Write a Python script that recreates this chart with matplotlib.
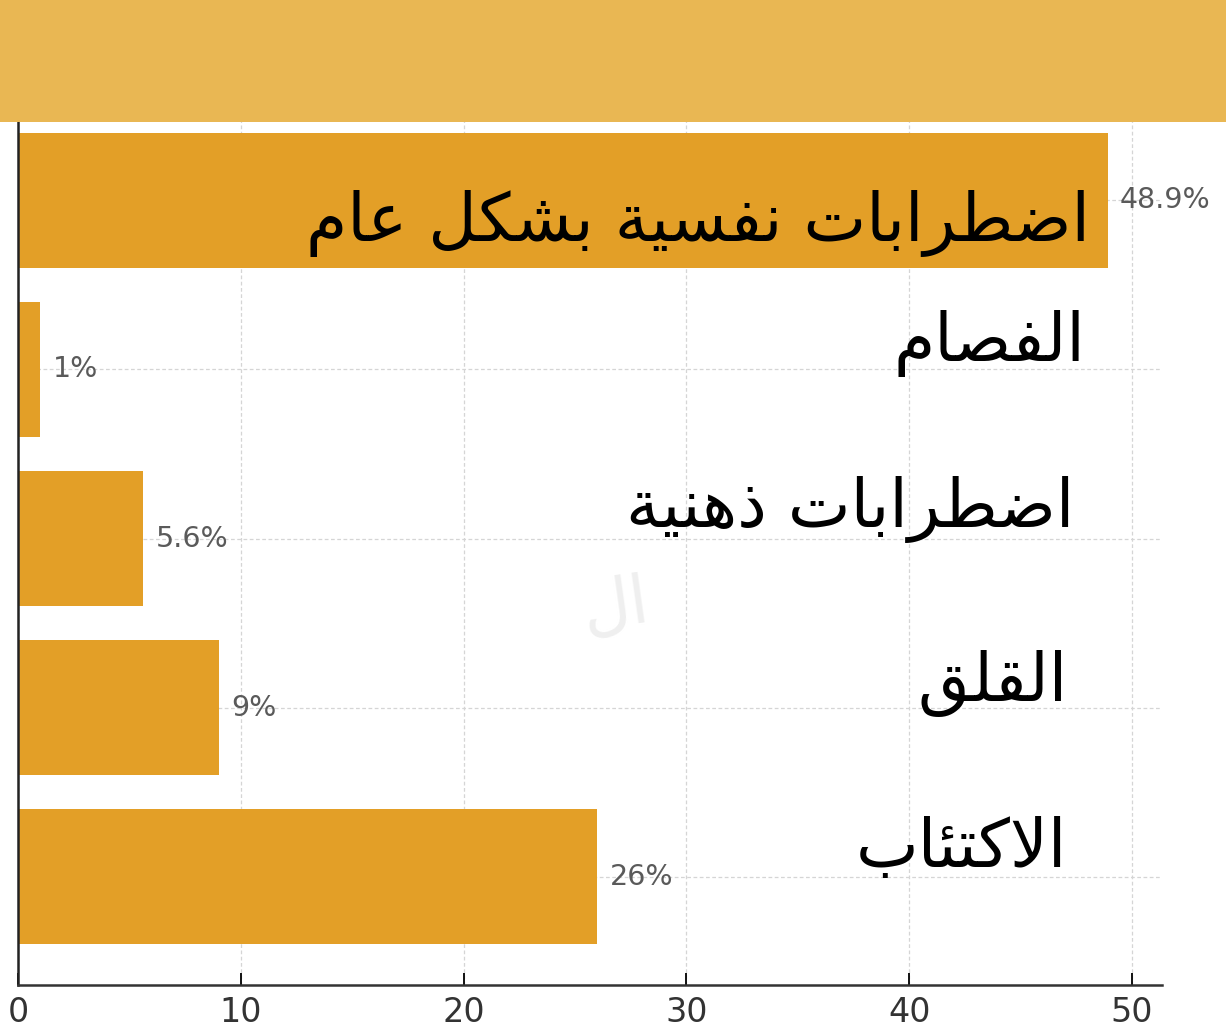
import matplotlib
matplotlib.use("Agg")
import matplotlib.pyplot as plt
from matplotlib.patches import Rectangle

# data, bottom to top
categories = ['الاكتئاب', 'القلق', 'اضطرابات ذهنية', 'الفصام', 'اضطرابات نفسية بشكل عام']
values = [26, 9, 5.6, 1, 48.9]
value_labels = ['26%', '9%', '5.6%', '1%', '48.9%']
xticks = [0, 10, 20, 30, 40, 50]

# arabic presentation forms: isolated, final, initial, medial
FORMS = {
    'ا': ('\uFE8D', '\uFE8E', None, None),
    'ب': ('\uFE8F', '\uFE90', '\uFE91', '\uFE92'),
    'ة': ('\uFE93', '\uFE94', None, None),
    'ت': ('\uFE95', '\uFE96', '\uFE97', '\uFE98'),
    'ذ': ('\uFEAB', '\uFEAC', None, None),
    'ر': ('\uFEAD', '\uFEAE', None, None),
    'س': ('\uFEB1', '\uFEB2', '\uFEB3', '\uFEB4'),
    'ش': ('\uFEB5', '\uFEB6', '\uFEB7', '\uFEB8'),
    'ص': ('\uFEB9', '\uFEBA', '\uFEBB', '\uFEBC'),
    'ض': ('\uFEBD', '\uFEBE', '\uFEBF', '\uFEC0'),
    'ط': ('\uFEC1', '\uFEC2', '\uFEC3', '\uFEC4'),
    'ع': ('\uFEC9', '\uFECA', '\uFECB', '\uFECC'),
    'ف': ('\uFED1', '\uFED2', '\uFED3', '\uFED4'),
    'ق': ('\uFED5', '\uFED6', '\uFED7', '\uFED8'),
    'ك': ('\uFED9', '\uFEDA', '\uFEDB', '\uFEDC'),
    'ل': ('\uFEDD', '\uFEDE', '\uFEDF', '\uFEE0'),
    'م': ('\uFEE1', '\uFEE2', '\uFEE3', '\uFEE4'),
    'ن': ('\uFEE5', '\uFEE6', '\uFEE7', '\uFEE8'),
    'ه': ('\uFEE9', '\uFEEA', '\uFEEB', '\uFEEC'),
    'ي': ('\uFEF1', '\uFEF2', '\uFEF3', '\uFEF4'),
    'ئ': ('\uFE89', '\uFE8A', '\uFE8B', '\uFE8C'),
    'لا': ('\uFEFB', '\uFEFC', None, None),
}


def shape(text):
    """Join arabic letters and put them in visual (left to right) order."""
    chars = []
    i = 0
    while i < len(text):
        if text[i] == 'ل' and i + 1 < len(text) and text[i + 1] == 'ا':
            chars.append('لا')
            i += 2
        else:
            chars.append(text[i])
            i += 1
    out = []
    for k, c in enumerate(chars):
        if c not in FORMS:
            out.append(c)
            continue
        prev = chars[k - 1] if k > 0 else None
        nxt = chars[k + 1] if k + 1 < len(chars) else None
        join_prev = prev in FORMS and FORMS[prev][2] is not None
        join_next = FORMS[c][2] is not None and nxt in FORMS
        iso, fin, ini, med = FORMS[c]
        if join_prev and join_next:
            out.append(med)
        elif join_prev:
            out.append(fin)
        elif join_next:
            out.append(ini)
        else:
            out.append(iso)
    return ''.join(reversed(out))


fig = plt.figure(figsize=(12.26, 10.32), dpi=100)
ax = fig.add_axes([0.0147, 0.0455, 0.9331, 0.8653])

ypos = range(len(values))
ax.barh(ypos, values, height=0.8, color='#E39F27', zorder=2)

ax.set_xticks(xticks)
ax.set_yticks(list(ypos))
ax.set_yticklabels([])
ax.tick_params(axis='x', direction='in', length=9, width=1.3, labelsize=24,
               labelcolor='#333333', pad=8)
ax.tick_params(axis='y', direction='in', length=7, width=1.3, color='#7a4a10')
ax.grid(True, color='#d5d5d5', linestyle=(0, (3, 2)), linewidth=0.9, zorder=0)
ax.set_axisbelow(True)
for s in ['top', 'right']:
    ax.spines[s].set_visible(False)
ax.spines['left'].set_linewidth(1.8)
ax.spines['bottom'].set_linewidth(1.8)
ax.spines['left'].set_color('#222222')
ax.spines['bottom'].set_color('#333333')

# value labels next to the bars
for y, v, lab in zip(ypos, values, value_labels):
    ax.annotate(lab, (v, y), xytext=(9, 0), textcoords='offset points',
                va='center', ha='left', fontsize=20.5, color='#5a5a5a')

# big category names on the right
name_x = [47.1, 47.1, 47.4, 47.9, 48.1]
name_dy = [0.06, 0.04, 0.07, 0.05, -0.24]
for y, name, nx, dy in zip(ypos, categories, name_x, name_dy):
    ax.text(nx, y + dy, shape(name), ha='right', va='baseline',
            fontsize=48, color='black', zorder=5)

# faint watermark
ax.text(26.8, 1.6, shape('ال'), fontsize=48, color='#efefef', rotation=8,
        ha='center', va='center', zorder=1)

# banner on top
fig.add_artist(Rectangle((0, 0.882), 1, 0.118, transform=fig.transFigure,
                         facecolor='#E9B753', edgecolor='none', zorder=10))

fig.savefig('out.png', dpi=100)
